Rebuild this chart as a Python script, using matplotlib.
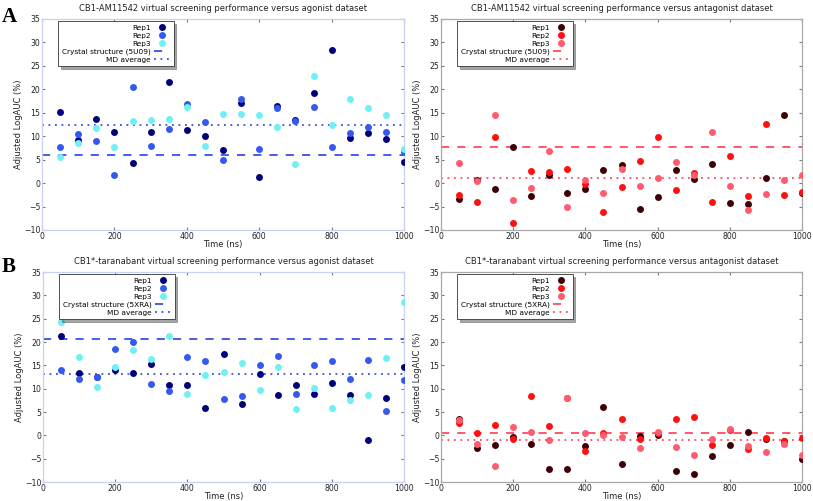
import matplotlib
matplotlib.use("Agg")
import matplotlib.pyplot as plt
import numpy as np

time_ns = [50, 100, 150, 200, 250, 300, 350, 400, 450, 500,
           550, 600, 650, 700, 750, 800, 850, 900, 950, 1000]

# Panel A, agonist dataset
a_ago_rep1 = [15.1, 9.3, 13.7, 10.8, 4.2, 11.0, 21.6, 11.3, 10.1, 7.0,
              17.0, 1.2, 16.5, 13.4, 19.3, 28.3, 9.7, 10.6, 9.5, 4.6]
a_ago_rep2 = [7.7, 10.5, 9.0, 1.7, 20.6, 8.0, 11.6, 16.9, 13.1, 4.9,
              18.0, 7.2, 16.0, 13.3, 16.2, 7.8, 10.7, 11.9, 11.0, 6.7]
a_ago_rep3 = [5.6, 8.5, 11.8, 7.8, 13.3, 13.4, 13.6, 16.3, 8.0, 14.8,
              14.7, 14.5, 12.0, 4.1, 22.8, 12.4, 18.0, 16.0, 14.5, 7.2]
a_ago_crystal = 6.0
a_ago_md = 12.3

# Panel A, antagonist dataset
a_ant_rep1 = [-3.4, 0.6, -1.3, 7.8, -2.7, 1.7, -2.1, -1.2, 2.7, 3.8,
              -5.6, -3.0, 2.8, 0.9, 4.0, -4.3, -4.5, 1.0, 14.5, -2.1]
a_ant_rep2 = [-2.6, -4.0, 9.8, -8.5, 2.5, 2.4, 3.1, -0.2, -6.2, -0.8,
              4.8, 9.8, -1.5, 2.1, -4.1, 5.7, -2.8, 12.5, -2.6, -1.8]
a_ant_rep3 = [4.3, 0.4, 14.6, -3.5, -1.1, 6.8, -5.0, 0.6, -2.2, 3.0,
              -0.6, 1.0, 4.4, 1.7, 10.8, -0.7, -5.8, -2.3, 0.6, 1.7]
a_ant_crystal = 7.8
a_ant_md = 1.0

# Panel B, agonist dataset
b_ago_rep1 = [21.3, 13.4, 12.6, 13.9, 13.4, 15.2, 10.8, 10.7, 5.9, 17.4,
              6.7, 13.2, 8.6, 10.8, 8.8, 11.3, 8.7, -0.9, 8.1, 14.7]
b_ago_rep2 = [14.0, 12.1, 12.6, 18.5, 20.0, 11.1, 9.4, 16.8, 15.9, 7.7,
              8.5, 15.0, 16.9, 8.8, 15.0, 15.9, 12.1, 16.1, 5.2, 11.9]
b_ago_rep3 = [24.3, 16.7, 10.4, 14.6, 18.3, 16.4, 21.3, 8.9, 12.9, 13.6,
              15.5, 9.8, 14.6, 5.7, 10.2, 5.9, 7.5, 8.7, 16.5, 28.6]
b_ago_crystal = 20.6
b_ago_md = 13.1

# Panel B, antagonist dataset
b_ant_rep1 = [3.6, -2.7, -2.0, -0.4, -1.9, -7.2, -7.2, -2.2, 6.1, -6.1,
              -0.1, 0.0, -7.7, -8.2, -4.5, -2.0, 0.7, -0.8, -1.3, -5.0]
b_ant_rep2 = [2.7, 0.5, 2.2, -0.8, 8.5, 2.1, 7.9, -3.4, 0.5, 3.6,
              -0.8, 0.4, 3.6, 4.0, -2.0, 1.2, -3.0, -0.6, -1.2, -0.6]
b_ant_rep3 = [3.3, -1.8, -6.5, 1.8, 0.8, -0.9, 7.9, 0.4, 0.1, -0.3,
              -2.7, 0.7, -2.6, -4.2, -0.7, 1.3, -2.2, -3.5, -1.8, -4.2]
b_ant_crystal = 0.6
b_ant_md = -1.0

blue_cols = ["#00007a", "#3558ee", "#6ef0f4"]
blue_line = "#3a4fe0"
red_cols = ["#3d0006", "#ff1010", "#ff5a6e"]
red_line = "#ff4a60"

fig = plt.figure(figsize=(8.13, 5.01), dpi=100)
W, H = 813.0, 501.0

def add_ax(l, r, t, b):
    return fig.add_axes([l / W, 1 - b / H, (r - l) / W, (b - t) / H])

panels = [
    (add_ax(42, 404, 19, 230), "CB1-AM11542 virtual screening performance versus agonist dataset",
     [a_ago_rep1, a_ago_rep2, a_ago_rep3], a_ago_crystal, a_ago_md, blue_cols, blue_line,
     "Crystal structure (5U09)", "#c8d0f4"),
    (add_ax(441, 802, 19, 230), "CB1-AM11542 virtual screening performance versus antagonist dataset",
     [a_ant_rep1, a_ant_rep2, a_ant_rep3], a_ant_crystal, a_ant_md, red_cols, red_line,
     "Crystal structure (5U09)", "#a8a8a8"),
    (add_ax(43, 404, 272, 482), "CB1*-taranabant virtual screening performance versus agonist dataset",
     [b_ago_rep1, b_ago_rep2, b_ago_rep3], b_ago_crystal, b_ago_md, blue_cols, blue_line,
     "Crystal structure (5XRA)", "#c8d0f4"),
    (add_ax(441, 802, 272, 482), "CB1*-taranabant virtual screening performance versus antagonist dataset",
     [b_ant_rep1, b_ant_rep2, b_ant_rep3], b_ant_crystal, b_ant_md, red_cols, red_line,
     "Crystal structure (5XRA)", "#a8a8a8"),
]

for ax, title, reps, crystal, md, cols, lcol, clabel, spcol in panels:
    for i, (rep, c) in enumerate(zip(reps, cols)):
        ax.plot(time_ns, rep, "o", color=c, markersize=5.0, markeredgewidth=0,
                label="Rep%d" % (i + 1), zorder=3)
    ax.axhline(crystal, color=lcol, lw=1.3, linestyle=(0, (4.5, 4.5)), label=clabel, zorder=2)
    ax.axhline(md, color=lcol, lw=1.3, linestyle=(0, (1, 2.6)), label="MD average", zorder=2)
    ax.set_xlim(0, 1000)
    ax.set_ylim(-10, 35)
    ax.set_xticks([0, 200, 400, 600, 800, 1000])
    ax.set_yticks(np.arange(-10, 36, 5))
    ax.tick_params(direction="in", length=2, width=0.8, labelsize=5.6, pad=1.2,
                   colors="#777777", labelcolor="#222222", right=True, top=True)
    for s in ax.spines.values():
        s.set_color(spcol)
        s.set_linewidth(0.9)
    ax.set_title(title, fontsize=6.0, pad=6, color="#222222")
    ax.set_xlabel("Time (ns)", fontsize=6.0, labelpad=-0.5, color="#222222")
    ax.set_ylabel("Adjusted LogAUC (%)", fontsize=6.0, labelpad=1, color="#222222")
    leg = ax.legend(loc="upper left", bbox_to_anchor=(0.045, 0.99), fontsize=5.3,
                    markerfirst=False, frameon=True, fancybox=False, shadow=True,
                    handlelength=2.2, handletextpad=0.5, labelspacing=0.25,
                    borderpad=0.45, borderaxespad=0.0, numpoints=1)
    leg.get_frame().set_edgecolor("#333333")
    leg.get_frame().set_linewidth(0.6)
    for vp in leg._legend_handle_box.get_children():
        vp.align = "right"

fig.text(2 / W, 1 - 22 / H, "A", fontsize=15, fontweight="bold", family="Liberation Serif")
fig.text(2 / W, 1 - 272 / H, "B", fontsize=15, fontweight="bold", family="Liberation Serif")

fig.savefig("out.png", dpi=100)
